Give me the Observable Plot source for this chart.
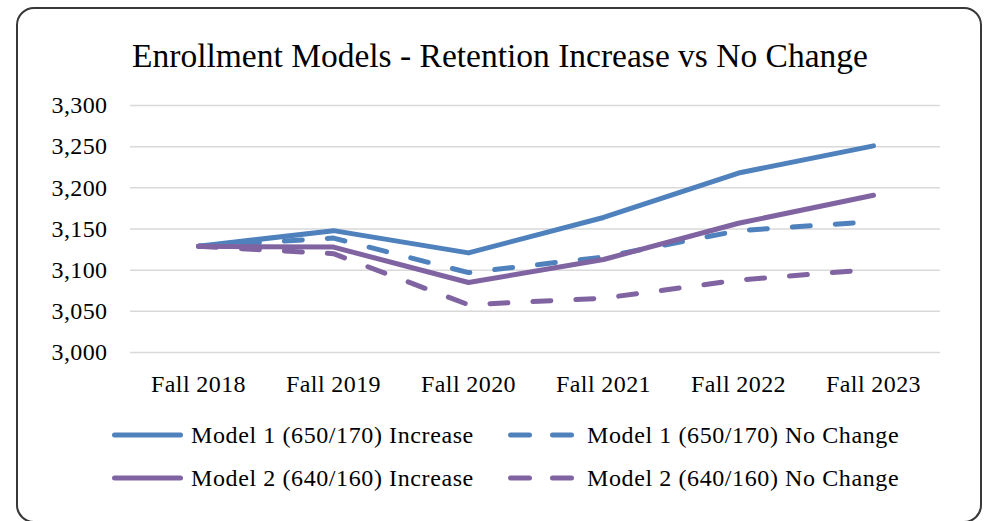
<!DOCTYPE html>
<html>
<head>
<meta charset="utf-8">
<script src="https://cdn.jsdelivr.net/npm/d3@7"></script>
<script src="https://cdn.jsdelivr.net/npm/@observablehq/plot@0.6"></script>
<style>
  html, body { margin: 0; padding: 0; background: #fff; width: 987px; height: 521px; overflow: hidden; }
  #frame { position: absolute; left: 16px; top: 7px; width: 962px; height: 512px; border: 2.5px solid #383838; border-radius: 18px; box-sizing: content-box; }
  #title { position: absolute; left: 17px; width: 966px; top: 39px; text-align: center; font-family: "Liberation Serif", serif; font-size: 33.5px; line-height: 33px; color: #000; white-space: nowrap; }
  #chart { position: absolute; left: 0; top: 0; }
  #legend { position: absolute; left: 0; top: 0; }
</style>
</head>
<body>
<div id="frame"></div>
<div id="title">Enrollment Models - Retention Increase vs No Change</div>
<div id="chart"></div>
<div id="legend"></div>
<script>
const years = ["Fall 2018", "Fall 2019", "Fall 2020", "Fall 2021", "Fall 2022", "Fall 2023"];
const m1Increase = [3129, 3148, 3121, 3164, 3218, 3251];
const m1NoChange = [3129, 3139, 3097, 3116, 3148, 3159];
const m2Increase = [3129, 3128, 3085, 3113, 3157, 3191];
const m2NoChange = [3129, 3120, 3058, 3066, 3088, 3101];
const seriesNames = ["Model 1 (650/170) Increase", "Model 1 (650/170) No Change", "Model 2 (640/160) Increase", "Model 2 (640/160) No Change"];
const seriesValues = [m1Increase, m1NoChange, m2Increase, m2NoChange];
const seriesColors = ["#4F81BD", "#4F81BD", "#8064A2", "#8064A2"];
const seriesDashed = [false, true, false, true];
const yTicks = [3000, 3050, 3100, 3150, 3200, 3250, 3300];

const rows = seriesNames.flatMap((name, i) => years.map((yr, j) => ({series: name, year: yr, value: seriesValues[i][j]})));

const lineMarks = seriesNames.map((name, i) => Plot.line(rows.filter(d => d.series === name), {
  x: "year", y: "value",
  stroke: seriesColors[i], strokeWidth: 5,
  strokeDasharray: seriesDashed[i] ? "18,25" : null,
  strokeLinecap: "round", strokeLinejoin: "round"
}));

const chart = Plot.plot({
  width: 987, height: 420,
  marginTop: 105, marginBottom: 68, marginLeft: 130, marginRight: 47,
  style: {fontFamily: "Liberation Serif, serif", fontSize: "24px", color: "#000", background: "transparent", letterSpacing: "0.4px"},
  x: {type: "point", domain: years, padding: 0.5, label: null},
  y: {domain: [3000, 3300], label: null},
  marks: [
    Plot.gridY(yTicks, {stroke: "#d9d9d9", strokeOpacity: 1, strokeWidth: 1.5}),
    Plot.axisY({ticks: yTicks, tickFormat: d3.format(","), tickSize: 0, tickPadding: 23, label: null, fill: "#000"}),
    Plot.axisX({tickSize: 0, tickPadding: 22, label: null, fill: "#000"}),
    ...lineMarks
  ]
});
document.getElementById("chart").appendChild(chart);

// Legend
const legendPos = [
  {sx: 114.5, tx: 191, y: 435},
  {sx: 510.5, tx: 587, y: 435},
  {sx: 114.5, tx: 191, y: 478},
  {sx: 510.5, tx: 587, y: 478}
];
const svg = d3.select("#legend").append("svg").attr("width", 987).attr("height", 521);
seriesNames.forEach((name, i) => {
  const p = legendPos[i];
  svg.append("line")
    .attr("x1", p.sx).attr("x2", seriesDashed[i] ? p.sx + 61 : p.sx + 66)
    .attr("y1", p.y).attr("y2", p.y)
    .attr("stroke", seriesColors[i]).attr("stroke-width", 5)
    .attr("stroke-linecap", "round")
    .attr("stroke-dasharray", seriesDashed[i] ? "19,23" : null);
  svg.append("text")
    .attr("x", p.tx).attr("y", p.y + 7.5)
    .attr("font-family", "Liberation Serif, serif").attr("font-size", 24)
    .attr("letter-spacing", "0.6px")
    .attr("fill", "#000")
    .text(name);
});
</script>
</body>
</html>
